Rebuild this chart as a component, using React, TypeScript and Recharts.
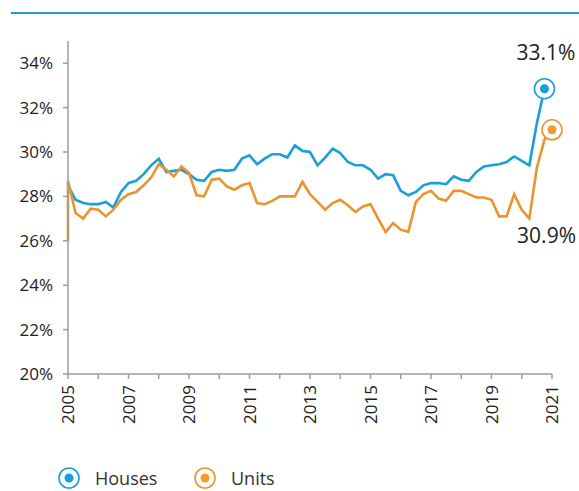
import { LineChart, Line, XAxis, YAxis, Legend } from "recharts"

const startYear = 2005
const yearTicks = [2005, 2006, 2007, 2008, 2009, 2010, 2011, 2012, 2013, 2014, 2015, 2016, 2017, 2018, 2019, 2020, 2021]
const pctTicks = [20, 22, 24, 26, 28, 30, 32, 34]

// quarterly share, %, from 2005 Q1
const houses = [
    28.5, 27.85, 27.7, 27.65, 27.65, 27.75, 27.5, 28.2, 28.6, 28.7, 29.0, 29.4, 29.7, 29.1, 29.15, 29.2,
    29.0, 28.75, 28.7, 29.1, 29.2, 29.15, 29.2, 29.7, 29.85, 29.45, 29.7, 29.9, 29.9, 29.75, 30.3, 30.05,
    30.0, 29.4, 29.75, 30.15, 29.95, 29.55, 29.4, 29.4, 29.2, 28.8, 29.0, 28.95, 28.25, 28.05, 28.2, 28.5,
    28.6, 28.6, 28.55, 28.9, 28.75, 28.7, 29.1, 29.35, 29.4, 29.45, 29.55, 29.8, 29.6, 29.4, 31.3, 32.85,
]
const unitsOpen = 26.0
const units = [
    28.7, 27.25, 27.0, 27.45, 27.4, 27.1, 27.4, 27.85, 28.1, 28.2, 28.5, 28.85, 29.45, 29.2, 28.9, 29.35,
    29.05, 28.05, 28.0, 28.75, 28.8, 28.45, 28.3, 28.5, 28.6, 27.7, 27.65, 27.8, 28.0, 28.0, 28.0, 28.65,
    28.1, 27.75, 27.4, 27.7, 27.85, 27.6, 27.3, 27.55, 27.65, 27.0, 26.4, 26.8, 26.5, 26.4, 27.75, 28.1,
    28.25, 27.9, 27.8, 28.25, 28.25, 28.1, 27.95, 27.95, 27.85, 27.1, 27.1, 28.1, 27.4, 27.0, 29.3, 30.55,
    31.0,
]
const housesLabel = "33.1%"
const unitsLabel = "30.9%"

const BLUE = "#1a9fda"
const ORANGE = "#e8942f"
const ORANGE_DOT = "#f39b2a"
const FONT = "'Open Sans', sans-serif"

const housesData = houses.map((v, i) => ({ t: startYear + i / 4, v }))
const unitsData = [{ t: startYear, v: unitsOpen }, ...units.map((v, i) => ({ t: startYear + i / 4, v }))]

function endMarker(color: string, fill: string, last: number, label: string, dx: number, dy: number) {
    return (p: any) => {
        if (p.index !== last) return <g key={`d-${p.index}`} />
        return (
            <g key={`d-${p.index}`}>
                <circle cx={p.cx} cy={p.cy} r={10} fill="#fff" stroke={color} strokeWidth={1.6} />
                <circle cx={p.cx} cy={p.cy} r={4.5} fill={fill} />
                <text x={p.cx + dx} y={p.cy + dy} textAnchor="end" fontSize={21} fill="#222" fontFamily={FONT}>
                    {label}
                </text>
            </g>
        )
    }
}

function YearTick({ x, y, payload }: any) {
    if (payload.value % 2 === 0) return null
    return (
        <text x={x} y={y} transform={`rotate(-90, ${x}, ${y})`} textAnchor="end" dy="0.36em"
            fontSize={17} fill="#222" fontFamily={FONT}>
            {payload.value}
        </text>
    )
}

function LegendBox() {
    const item = (color: string, fill: string, text: string, left: number) => (
        <div style={{ position: "absolute", left, top: 12, display: "flex", alignItems: "center" }}>
            <svg width={24} height={24}>
                <circle cx={12} cy={12} r={10} fill="#fff" stroke={color} strokeWidth={1.6} />
                <circle cx={12} cy={12} r={4.5} fill={fill} />
            </svg>
            <span style={{ marginLeft: 14, fontSize: 18, lineHeight: "24px", color: "#333", fontFamily: FONT }}>{text}</span>
        </div>
    )
    return (
        <div style={{ position: "relative", width: 579, height: 37 }}>
            {item(BLUE, BLUE, "Houses", 57)}
            {item(ORANGE, ORANGE_DOT, "Units", 193)}
        </div>
    )
}

export default function App() {
    return (
        <div style={{ position: "absolute", left: 0, top: 0, width: 579, height: 491, background: "#fff" }}>
            <div style={{ position: "absolute", left: 11, top: 12, width: 568, height: 2, background: BLUE }} />
            <LineChart width={579} height={491} margin={{ top: 41, right: 27, bottom: 0, left: 8 }}>
                <XAxis
                    dataKey="t"
                    type="number"
                    domain={[2005, 2021]}
                    ticks={yearTicks}
                    interval={0}
                    tick={<YearTick />}
                    tickSize={5}
                    tickMargin={6}
                    height={80}
                    stroke="#9d9d9d"
                    strokeWidth={1.5}
                    allowDuplicatedCategory={false}
                />
                <YAxis
                    type="number"
                    domain={[20, 35]}
                    ticks={pctTicks}
                    interval={0}
                    tickFormatter={(v) => `${v}%`}
                    tick={{ fontSize: 17, fill: "#222", fontFamily: FONT }}
                    tickSize={5}
                    tickMargin={10}
                    width={60}
                    stroke="#9d9d9d"
                    strokeWidth={1.5}
                />
                <Legend verticalAlign="bottom" content={<LegendBox />} wrapperStyle={{ left: 0, width: 579, height: 37 }} />
                <Line
                    data={housesData}
                    dataKey="v"
                    name="Houses"
                    stroke={BLUE}
                    strokeWidth={2.6}
                    dot={endMarker(BLUE, BLUE, housesData.length - 1, housesLabel, 31, -29)}
                    activeDot={false}
                    isAnimationActive={false}
                />
                <Line
                    data={unitsData}
                    dataKey="v"
                    name="Units"
                    stroke={ORANGE}
                    strokeWidth={2.6}
                    dot={endMarker(ORANGE, ORANGE_DOT, unitsData.length - 1, unitsLabel, 24, 113)}
                    activeDot={false}
                    isAnimationActive={false}
                />
            </LineChart>
        </div>
    )
}
